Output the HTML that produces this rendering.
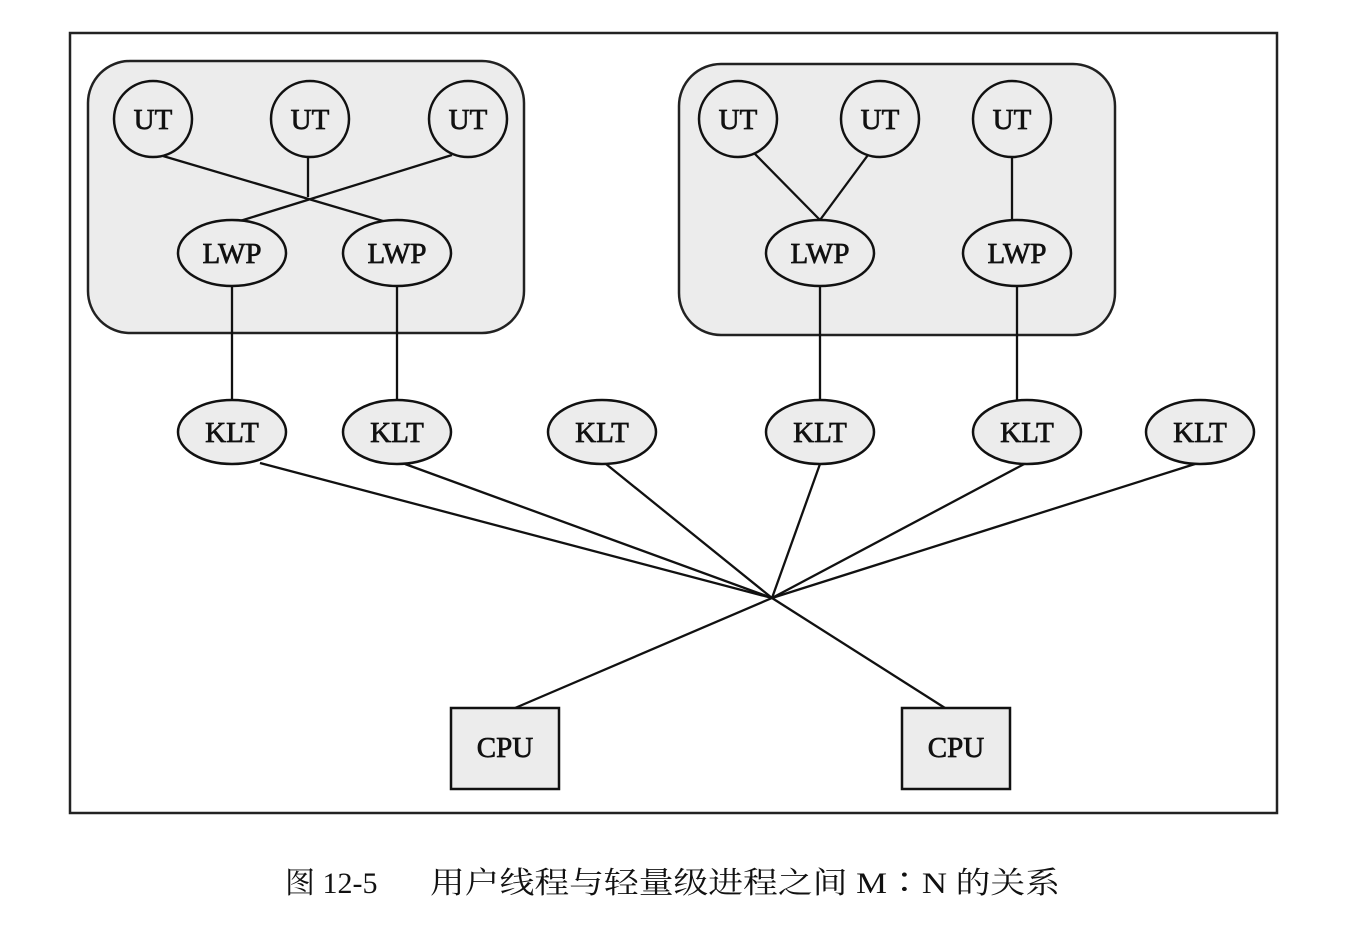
<!DOCTYPE html>
<html><head><meta charset="utf-8"><style>
html,body{margin:0;padding:0;background:#fff;}
svg text{font-family:"Liberation Serif","Noto Serif CJK SC",serif;}
</style></head><body>
<svg width="1362" height="934" viewBox="0 0 1362 934" xmlns="http://www.w3.org/2000/svg">
<rect x="70" y="33" width="1207" height="780" fill="#fff" stroke="#222" stroke-width="2.5"/>
<rect x="88" y="61" width="436" height="272" rx="42" fill="#ececec" stroke="#222" stroke-width="2.5"/>
<rect x="679" y="64" width="436" height="271" rx="42" fill="#ececec" stroke="#222" stroke-width="2.5"/>
<g stroke="#111" stroke-width="2.3" fill="none">
<line x1="163" y1="156" x2="383" y2="221"/>
<line x1="452" y1="155" x2="240" y2="221"/>
<line x1="308" y1="157" x2="308" y2="197"/>
<line x1="755" y1="154" x2="820" y2="220"/>
<line x1="868" y1="155" x2="820" y2="220"/>
<line x1="1012" y1="157" x2="1012" y2="221"/>
<line x1="232" y1="286" x2="232" y2="400"/>
<line x1="397" y1="286" x2="397" y2="400"/>
<line x1="820" y1="286" x2="820" y2="400"/>
<line x1="1017" y1="286" x2="1017" y2="400"/>
<line x1="260" y1="463" x2="772" y2="598"/>
<line x1="405" y1="464" x2="772" y2="598"/>
<line x1="606" y1="464" x2="772" y2="598"/>
<line x1="820" y1="464" x2="772" y2="598"/>
<line x1="1028" y1="462" x2="772" y2="598"/>
<line x1="1195" y1="464" x2="772" y2="598"/>
<line x1="772" y1="598" x2="515" y2="708"/>
<line x1="772" y1="598" x2="945" y2="708"/>
</g>
<g fill="#ececec" stroke="#111" stroke-width="2.5">
<ellipse cx="153" cy="119" rx="39" ry="38"/>
<ellipse cx="310" cy="119" rx="39" ry="38"/>
<ellipse cx="468" cy="119" rx="39" ry="38"/>
<ellipse cx="738" cy="119" rx="39" ry="38"/>
<ellipse cx="880" cy="119" rx="39" ry="38"/>
<ellipse cx="1012" cy="119" rx="39" ry="38"/>
<ellipse cx="232" cy="253" rx="54" ry="33"/>
<ellipse cx="397" cy="253" rx="54" ry="33"/>
<ellipse cx="820" cy="253" rx="54" ry="33"/>
<ellipse cx="1017" cy="253" rx="54" ry="33"/>
<ellipse cx="232" cy="432" rx="54" ry="32"/>
<ellipse cx="397" cy="432" rx="54" ry="32"/>
<ellipse cx="602" cy="432" rx="54" ry="32"/>
<ellipse cx="820" cy="432" rx="54" ry="32"/>
<ellipse cx="1027" cy="432" rx="54" ry="32"/>
<ellipse cx="1200" cy="432" rx="54" ry="32"/>
<rect x="451" y="708" width="108" height="81"/>
<rect x="902" y="708" width="108" height="81"/>
</g>
<g font-size="29" text-anchor="middle" fill="#111" stroke="#111" stroke-width="0.7">
<text x="153" y="129">UT</text><text x="310" y="129">UT</text><text x="468" y="129">UT</text>
<text x="738" y="129">UT</text><text x="880" y="129">UT</text><text x="1012" y="129">UT</text>
<text x="232" y="263">LWP</text><text x="397" y="263">LWP</text>
<text x="820" y="263">LWP</text><text x="1017" y="263">LWP</text>
<text x="232" y="442">KLT</text><text x="397" y="442">KLT</text><text x="602" y="442">KLT</text>
<text x="820" y="442">KLT</text><text x="1027" y="442">KLT</text><text x="1200" y="442">KLT</text>
<text x="505" y="757">CPU</text><text x="956" y="757">CPU</text>
</g>
<text x="285" y="893" font-size="30" fill="#111">图 12-5</text>
<text x="430" y="893" font-size="30" fill="#111" textLength="630" lengthAdjust="spacingAndGlyphs">用户线程与轻量级进程之间 M∶N 的关系</text>
</svg>
</body></html>
